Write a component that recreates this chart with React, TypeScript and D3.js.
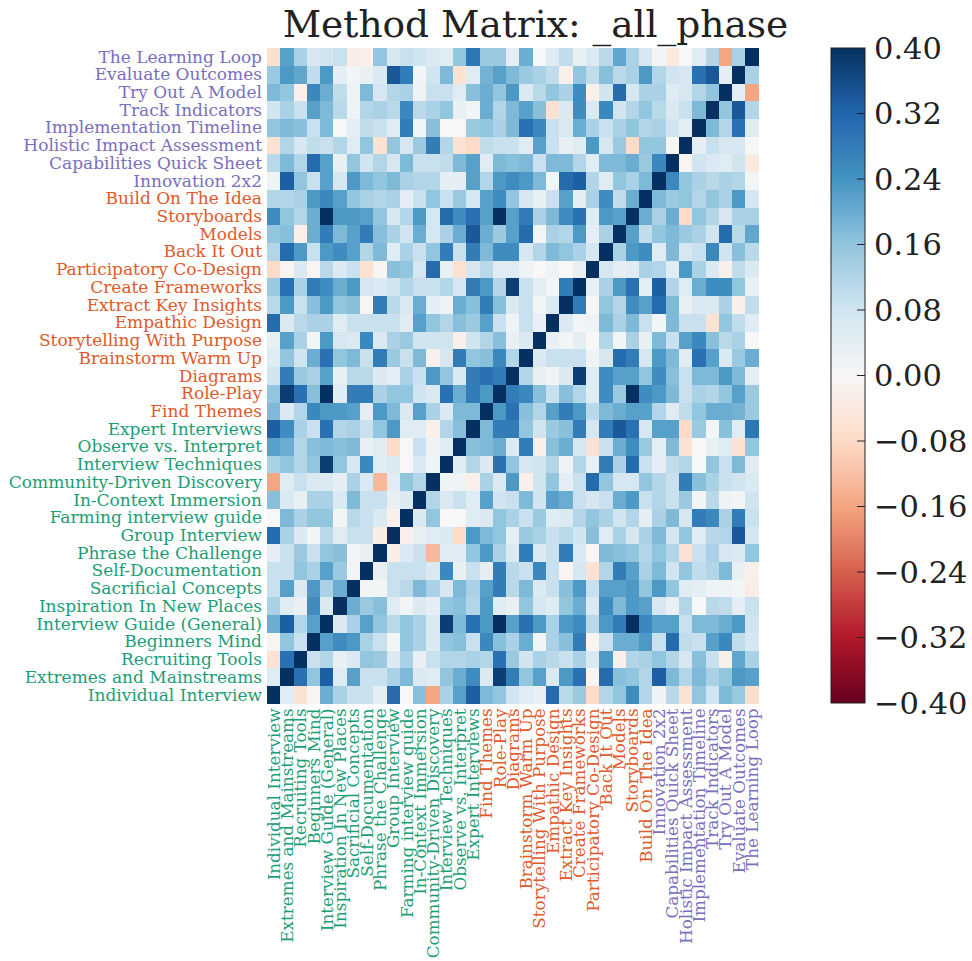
import React, { useRef, useEffect } from 'react';
import * as d3 from 'd3';

// methods in column order (left -> right); rows are drawn bottom -> top
const methods = [
  'Individual Interview', 'Extremes and Mainstreams', 'Recruiting Tools', 'Beginners Mind',
  'Interview Guide (General)', 'Inspiration In New Places', 'Sacrificial Concepts', 'Self-Documentation',
  'Phrase the Challenge', 'Group Interview', 'Farming interview guide', 'In-Context Immersion',
  'Community-Driven Discovery', 'Interview Techniques', 'Observe vs. Interpret', 'Expert Interviews',
  'Find Themes', 'Role-Play', 'Diagrams', 'Brainstorm Warm Up', 'Storytelling With Purpose',
  'Empathic Design', 'Extract Key Insights', 'Create Frameworks', 'Participatory Co-Design',
  'Back It Out', 'Models', 'Storyboards', 'Build On The Idea', 'Innovation 2x2',
  'Capabilities Quick Sheet', 'Holistic Impact Assessment', 'Implementation Timeline',
  'Track Indicators', 'Try Out A Model', 'Evaluate Outcomes', 'The Learning Loop',
];

// phase of each method (same order as methods)
const phases = [
  ...Array(16).fill('hear'),
  ...Array(13).fill('create'),
  ...Array(8).fill('deliver'),
];

const phaseColors: Record<string, string> = {
  hear: '#1b9e77',
  create: '#e05a2b',
  deliver: '#7770bd',
};

// lower triangle: row k holds corr(methods[k], methods[j]) for j < k
const lowerTriangle: number[][] = [
  [],
  [0.05],
  [-0.06, 0.30],
  [-0.01, 0.16, 0.09],
  [0.20, 0.33, 0.12, 0.22],
  [0.13, 0.05, 0.03, 0.25, 0.06],
  [0.09, 0.22, 0.06, 0.23, 0.13, 0.20],
  [0.09, 0.09, 0.16, 0.13, 0.22, 0.15, 0.01],
  [0.04, 0.09, 0.15, 0.09, 0.16, 0.17, 0.01, 0.03],
  [0.31, 0.13, 0.06, 0.01, 0.11, 0.05, 0.09, 0.09, -0.03],
  [0.0, 0.18, 0.13, 0.16, 0.16, 0.01, 0.11, 0.09, 0.06, -0.02],
  [0.17, 0.06, 0.03, 0.13, 0.13, 0.06, 0.18, 0.09, 0.09, 0.03, 0.06],
  [-0.16, 0.05, 0.09, 0.06, 0.06, 0.04, 0.13, 0.06, -0.13, 0.05, 0.16, 0.12],
  [0.13, 0.16, 0.12, 0.16, 0.38, 0.16, 0.07, 0.26, 0.05, 0.06, 0.0, 0.06, 0.02],
  [0.22, 0.20, 0.12, 0.17, 0.18, 0.17, 0.18, 0.03, 0.05, -0.08, 0.0, 0.09, 0.02, 0.05],
  [0.33, 0.25, 0.13, 0.09, 0.30, 0.12, 0.13, 0.09, 0.16, 0.23, 0.05, 0.05, -0.02, 0.12, 0.17],
  [0.18, 0.06, 0.12, 0.26, 0.23, 0.23, 0.22, 0.04, 0.23, 0.18, 0.06, 0.22, 0.13, 0.06, 0.18, 0.18],
  [0.16, 0.38, 0.30, 0.17, 0.40, 0.05, 0.28, 0.28, 0.13, 0.16, 0.16, 0.08, 0.06, 0.30, 0.20, 0.28, 0.23],
  [0.08, 0.28, 0.15, 0.13, 0.22, 0.03, 0.11, 0.11, 0.06, 0.04, 0.13, 0.09, 0.23, 0.16, 0.06, 0.28, 0.30, 0.28],
  [0.05, 0.16, 0.08, 0.20, 0.30, 0.16, 0.18, 0.09, 0.28, 0.15, 0.09, 0.18, -0.02, 0.07, 0.28, 0.16, 0.17, 0.26, 0.12],
  [0.03, 0.22, 0.13, 0.01, 0.23, 0.07, 0.06, 0.26, 0.06, 0.13, 0.15, 0.08, 0.08, 0.08, -0.02, 0.08, 0.12, 0.17, 0.03, 0.06],
  [0.31, 0.06, 0.11, 0.13, 0.13, 0.05, 0.09, 0.09, 0.09, 0.09, 0.05, 0.22, 0.16, 0.12, 0.17, 0.15, 0.22, 0.09, 0.02, 0.09, 0.03],
  [0.11, 0.23, 0.09, 0.17, 0.23, 0.16, 0.17, -0.01, 0.28, 0.11, 0.06, 0.20, 0.04, 0.02, 0.20, 0.17, 0.28, 0.17, 0.06, 0.09, 0.01, 0.06],
  [0.15, 0.30, 0.13, 0.28, 0.25, 0.20, 0.23, 0.07, 0.06, 0.08, 0.12, 0.09, 0.09, 0.12, 0.07, 0.28, 0.23, 0.12, 0.38, 0.09, 0.04, 0.01, 0.28],
  [-0.08, -0.01, 0.06, -0.01, 0.11, 0.06, 0.09, -0.06, -0.01, 0.17, 0.16, 0.07, 0.31, 0.03, -0.06, 0.07, 0.11, 0.05, 0.05, 0.02, 0.0, 0.02, 0.0, 0.03],
  [0.12, 0.31, 0.23, 0.09, 0.23, 0.25, 0.22, 0.12, 0.18, 0.05, 0.13, 0.09, 0.16, 0.28, 0.09, 0.28, 0.18, 0.25, 0.25, 0.07, 0.12, 0.18, 0.16, 0.13, 0.07],
  [0.16, 0.17, -0.02, 0.20, 0.28, 0.18, 0.22, 0.28, 0.17, 0.13, 0.08, 0.20, 0.07, 0.13, 0.20, 0.34, 0.20, 0.15, 0.22, 0.31, 0.01, 0.13, 0.12, 0.23, 0.04, 0.13],
  [0.25, 0.16, 0.12, 0.20, 0.40, 0.23, 0.23, 0.22, 0.16, 0.07, 0.12, 0.23, 0.07, 0.31, 0.25, 0.30, 0.22, 0.40, 0.22, 0.28, 0.13, 0.18, 0.25, 0.30, 0.05, 0.23, 0.22],
  [0.12, 0.12, 0.13, 0.23, 0.26, 0.22, 0.16, 0.13, 0.12, 0.13, 0.04, 0.09, 0.16, 0.09, 0.15, 0.07, 0.22, 0.25, 0.16, 0.07, 0.03, 0.09, 0.22, 0.04, 0.13, 0.25, 0.10, 0.20],
  [0.02, 0.33, 0.16, 0.09, 0.22, 0.07, 0.23, 0.18, 0.16, 0.18, 0.13, 0.12, 0.12, 0.04, 0.04, 0.22, 0.12, 0.23, 0.25, 0.23, 0.18, 0.01, 0.31, 0.33, 0.12, 0.05, 0.16, 0.13, 0.18],
  [0.11, 0.18, 0.12, 0.31, 0.22, 0.03, 0.16, 0.08, 0.12, 0.07, 0.18, 0.09, 0.09, 0.10, 0.18, 0.22, 0.05, 0.18, 0.17, 0.18, 0.09, 0.18, 0.18, 0.12, 0.05, 0.18, 0.18, 0.20, 0.15, 0.26],
  [-0.06, 0.12, 0.07, 0.10, 0.09, 0.12, 0.05, 0.16, -0.06, 0.16, 0.07, 0.15, 0.28, 0.12, -0.06, -0.08, 0.10, 0.09, 0.09, 0.05, 0.22, 0.09, 0.03, 0.05, 0.23, 0.07, 0.15, -0.08, 0.16, 0.16, -0.01],
  [0.16, 0.18, 0.17, 0.09, 0.18, 0.0, 0.04, 0.10, 0.09, 0.05, 0.28, 0.01, 0.17, 0.0, 0.0, 0.15, 0.16, 0.13, 0.18, 0.30, 0.26, 0.09, 0.06, 0.20, 0.13, 0.09, 0.13, 0.16, 0.12, 0.13, 0.08, 0.04],
  [0.08, 0.13, 0.09, 0.22, 0.18, 0.11, 0.02, 0.12, 0.13, 0.11, 0.26, 0.11, 0.13, 0.16, 0.03, 0.01, 0.20, 0.12, 0.18, 0.22, 0.17, -0.06, 0.06, 0.25, 0.06, 0.26, 0.08, 0.12, 0.16, 0.11, 0.06, 0.09, 0.18],
  [0.18, 0.16, -0.02, 0.26, 0.20, 0.10, 0.02, 0.18, 0.07, 0.12, 0.13, 0.02, 0.09, 0.09, 0.05, 0.17, 0.20, 0.16, 0.23, 0.06, 0.11, 0.16, 0.13, 0.25, -0.02, 0.08, 0.31, 0.07, 0.13, 0.13, 0.05, 0.07, 0.12, 0.16],
  [0.15, 0.23, 0.21, 0.10, 0.23, 0.04, 0.01, 0.03, 0.06, 0.34, 0.28, 0.01, 0.08, 0.18, -0.06, 0.05, 0.19, 0.22, 0.18, 0.15, 0.13, 0.10, -0.02, 0.16, 0.10, 0.17, 0.11, 0.13, 0.23, 0.12, 0.08, 0.07, 0.30, 0.34, 0.04],
  [-0.07, 0.22, 0.13, 0.07, 0.08, 0.09, -0.03, -0.02, 0.16, 0.07, 0.09, 0.08, 0.06, 0.05, 0.16, 0.29, 0.15, 0.15, 0.04, 0.20, 0.0, 0.05, 0.10, 0.03, 0.06, 0.11, 0.21, 0.13, 0.07, 0.01, -0.04, 0.0, 0.05, 0.12, -0.16, 0.13],
];

const colorTicks = [-0.4, -0.32, -0.24, -0.16, -0.08, 0, 0.08, 0.16, 0.24, 0.32, 0.4];

// matplotlib RdBu anchors, low -> high
const rdbu = ['#67001f', '#b2182b', '#d6604d', '#f4a582', '#fddbc7', '#f7f7f7',
  '#d1e5f0', '#92c5de', '#4393c3', '#2166ac', '#053061'];

const title = 'Method Matrix: _all_phase';

const corr = (a: number, b: number) => {
  if (a === b) return 1;
  return a > b ? lowerTriangle[a][b] : lowerTriangle[b][a];
};

const fmtTick = (v: number) => {
  const s = Math.abs(v).toFixed(2);
  return v < -1e-9 ? '\u2212' + s : s;
};

const App = () => {
  const ref = useRef<SVGSVGElement>(null);
  const width = 972;
  const height = 961;

  useEffect(() => {
    const svg = d3.select(ref.current);
    svg.selectAll('*').remove();

    const font = '"DejaVu Serif", serif';
    const plot = { left: 267, right: 758.7, top: 47.7, bottom: 703.4 };

    const x = d3.scaleBand().domain(methods).range([plot.left, plot.right]);
    const y = d3.scaleBand().domain([...methods].reverse()).range([plot.top, plot.bottom]);

    const color = d3.scaleLinear<string>()
      .domain(d3.range(11).map(i => -0.4 + i * 0.08))
      .range(rdbu)
      .interpolate(d3.interpolateRgb)
      .clamp(true);

    const cells: { r: number; c: number; v: number }[] = [];
    methods.forEach((_, r) => methods.forEach((__, c) => cells.push({ r, c, v: corr(r, c) })));

    // Cells
    svg.append('g')
      .attr('shape-rendering', 'crispEdges')
      .selectAll('rect')
      .data(cells)
      .join('rect')
      .attr('x', d => x(methods[d.c])!)
      .attr('y', d => y(methods[d.r])!)
      .attr('width', x.bandwidth() + 0.4)
      .attr('height', y.bandwidth() + 0.4)
      .attr('fill', d => color(d.v));

    // Row labels
    svg.append('g')
      .selectAll('text')
      .data(methods)
      .join('text')
      .attr('x', plot.left - 5)
      .attr('y', d => y(d)! + y.bandwidth() / 2)
      .attr('text-anchor', 'end')
      .attr('dominant-baseline', 'central')
      .attr('fill', (d, i) => phaseColors[phases[i]])
      .style('font-family', font)
      .style('font-size', '17px')
      .text(d => d);

    // Column labels
    svg.append('g')
      .selectAll('text')
      .data(methods)
      .join('text')
      .attr('transform', d => `translate(${x(d)! + x.bandwidth() / 2}, ${plot.bottom + 5}) rotate(-90)`)
      .attr('text-anchor', 'end')
      .attr('dominant-baseline', 'central')
      .attr('fill', (d, i) => phaseColors[phases[i]])
      .style('font-family', font)
      .style('font-size', '16.8px')
      .text(d => d);

    // Title
    svg.append('text')
      .attr('x', 535.5)
      .attr('y', 37)
      .attr('text-anchor', 'middle')
      .attr('fill', '#222')
      .style('font-family', font)
      .style('font-size', '37.5px')
      .text(title);

    // Colorbar
    const cb = { left: 831, right: 865, top: 48, bottom: 703 };
    const cy = d3.scaleLinear().domain([-0.4, 0.4]).range([cb.bottom, cb.top]);

    const grad = svg.append('defs').append('linearGradient')
      .attr('id', 'cbgrad')
      .attr('x1', 0).attr('y1', 1).attr('x2', 0).attr('y2', 0);
    grad.selectAll('stop')
      .data(d3.range(0, 1.0001, 0.02))
      .join('stop')
      .attr('offset', d => d)
      .attr('stop-color', d => color(-0.4 + d * 0.8));

    svg.append('rect')
      .attr('x', cb.left)
      .attr('y', cb.top)
      .attr('width', cb.right - cb.left)
      .attr('height', cb.bottom - cb.top)
      .attr('fill', 'url(#cbgrad)')
      .attr('stroke', '#222')
      .attr('stroke-width', 1);

    const cbAxis = svg.append('g');
    cbAxis.selectAll('line')
      .data(colorTicks.slice(1, -1))
      .join('line')
      .attr('x1', cb.right - 8)
      .attr('x2', cb.right)
      .attr('y1', d => cy(d))
      .attr('y2', d => cy(d))
      .attr('stroke', '#222')
      .attr('stroke-width', 1);

    cbAxis.selectAll('text')
      .data(colorTicks)
      .join('text')
      .attr('x', cb.right + 9)
      .attr('y', d => cy(d))
      .attr('dominant-baseline', 'central')
      .attr('fill', '#222')
      .style('font-family', font)
      .style('font-size', '30.5px')
      .text(d => fmtTick(d));
  }, []);

  return (
    <svg
      ref={ref}
      width={width}
      height={height}
      style={{ position: 'absolute', left: 0, top: 0, background: '#fff' }}
    />
  );
};

export default App;
